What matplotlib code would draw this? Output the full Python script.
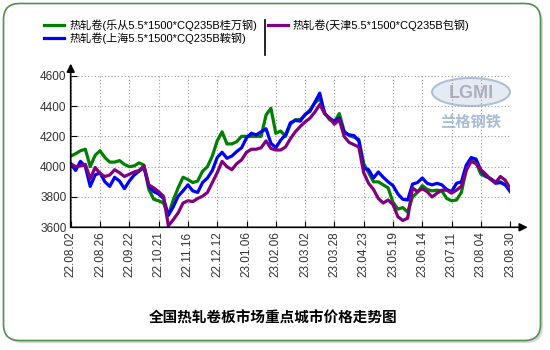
import matplotlib
matplotlib.use('Agg')
import matplotlib.pyplot as plt
from matplotlib.patches import FancyBboxPatch, Ellipse
from matplotlib.lines import Line2D

plt.rcParams['font.family'] = ['Liberation Sans', 'Noto Sans CJK SC', 'DejaVu Sans']

# ---------------- data ----------------
tick_labels = ['22.08.02', '22.08.26', '22.09.22', '22.10.21', '22.11.16', '22.12.12',
               '23.01.06', '23.02.06', '23.03.02', '23.03.28', '23.04.23', '23.05.19',
               '23.06.14', '23.07.11', '23.08.04', '23.08.30']

series_names = ['热轧卷(乐从5.5*1500*CQ235B桂万钢)',
                '热轧卷(上海5.5*1500*CQ235B鞍钢)',
                '热轧卷(天津5.5*1500*CQ235B包钢)']

lecong = [4070, 4085, 4105, 4115, 4000, 4075, 4105, 4060, 4030, 4030,
          4040, 4015, 4000, 4005, 4025, 4010, 3850, 3785, 3775, 3760,
          3680, 3780, 3860, 3930, 3915, 3895, 3905, 3970, 4000, 4070,
          4170, 4230, 4150, 4150, 4165, 4200, 4200, 4200, 4200, 4200,
          4340, 4385, 4220, 4235, 4200, 4280, 4310, 4310, 4340, 4375,
          4420, 4450, 4355, 4310, 4295, 4350, 4235, 4205, 4195, 4180,
          4020, 3960, 3900, 3900, 3880, 3860, 3765, 3720, 3730, 3700,
          3800, 3830, 3875, 3850, 3840, 3845, 3840, 3790, 3775, 3780,
          3830, 3980, 4045, 4030, 3950, 3935, 3920, 3900, 3900, 3880,
          3845]

shanghai = [4020, 3975, 4035, 4000, 3870, 3945, 3960, 3900, 3870, 3930,
            3905, 3855, 3905, 3945, 3970, 3995, 3870, 3835, 3820, 3790,
            3680, 3735, 3805, 3840, 3880, 3840, 3830, 3895, 3925, 3975,
            4060, 4095, 4055, 4070, 4100, 4125, 4190, 4220, 4210, 4230,
            4250, 4155, 4125, 4175, 4210, 4290, 4305, 4300, 4345, 4365,
            4425, 4485, 4350, 4320, 4300, 4320, 4225, 4210, 4205, 4170,
            3990, 3980, 3925, 3965, 3930, 3900, 3875, 3820, 3785, 3780,
            3885, 3895, 3925, 3890, 3880, 3890, 3880, 3850, 3835, 3890,
            3900, 4010, 4060, 4050, 3975, 3940, 3920, 3890, 3895, 3880,
            3835]

tianjin = [4020, 4000, 4005, 4015, 3920, 3995, 3955, 3935, 3945, 3980,
           3960, 3935, 3950, 3965, 3975, 4005, 3880, 3860, 3835, 3805,
           3610, 3650, 3695, 3760, 3775, 3770, 3790, 3805, 3830, 3895,
           3960, 4035, 4000, 3980, 4020, 4045, 4095, 4115, 4115, 4125,
           4170, 4120, 4110, 4110, 4130, 4185, 4230, 4265, 4295, 4320,
           4360, 4410, 4350, 4320, 4280, 4310, 4200, 4160, 4145, 4130,
           3960, 3890, 3850, 3790, 3760, 3780, 3750, 3670, 3645, 3660,
           3860, 3835, 3855, 3835, 3800, 3825, 3845, 3845, 3825, 3845,
           3870, 3975, 4035, 4020, 3980, 3950, 3915, 3895, 3935, 3910,
           3855]

colors = ['#008000', '#0000ff', '#800080']
yticks = [3600, 3800, 4000, 4200, 4400, 4600]
title = '全国热轧卷板市场重点城市价格走势图'

# ---------------- figure ----------------
W, H = 550, 350
fig = plt.figure(figsize=(W / 100, H / 100), dpi=100)
fig.patch.set_facecolor('white')

# background overlay in pixel coordinates
bg = fig.add_axes([0, 0, 1, 1], zorder=0)
bg.set_xlim(0, W)
bg.set_ylim(H, 0)
bg.axis('off')
shadow = FancyBboxPatch((6, 6), 537, 337, boxstyle='round,pad=0,rounding_size=16',
                        facecolor='#c8c8c8', edgecolor='none', alpha=0.7)
bg.add_patch(shadow)
frame = FancyBboxPatch((3.5, 3.5), 537, 337, boxstyle='round,pad=0,rounding_size=16',
                       facecolor='white', edgecolor='#4f8f4f', linewidth=1.2)
bg.add_patch(frame)
# separator in legend
bg.plot([265, 265], [20, 55], color='black', lw=1.2)
# watermark
bg.add_patch(Ellipse((471, 92), 78, 28, facecolor='#dfe6f0', edgecolor='#9fb3cc', lw=1.5, alpha=0.8))
bg.text(471, 93, 'LGMI', ha='center', va='center', fontsize=13, fontweight='bold',
        color='#a8a8b8', alpha=0.9)
bg.text(471, 122, '兰格钢铁', ha='center', va='center', fontsize=11, fontweight='bold',
        color='#a9bcd8', family=['Noto Sans CJK SC'])
# title
bg.text(273, 318, title, ha='center', va='center', fontsize=10.5, fontweight='bold',
        family=['Noto Sans CJK SC'], color='black')

# main axes
x0, x1 = 70.7, 510.2
y0, y1 = 75.7, 227.3
ax = fig.add_axes([x0 / W, 1 - y1 / H, (x1 - x0) / W, (y1 - y0) / H], zorder=2)
ax.patch.set_alpha(0)

xs = list(range(len(lecong)))
for vals, c, name in zip([lecong, shanghai, tianjin], colors, series_names):
    ax.plot(xs, vals, color=c, lw=2.3, label=name, solid_joinstyle='round')

ax.set_xlim(0, len(lecong) - 1)
ax.set_ylim(3600, 4600)
step = (len(lecong) - 1) // (len(tick_labels) - 1)
ax.set_xticks([i * step for i in range(len(tick_labels))])
ax.set_xticklabels(tick_labels, rotation=90, fontsize=8.5, color='#333333')
ax.set_yticks(yticks)
ax.set_yticklabels([str(v) for v in yticks], fontsize=8.5, color='#333333')
ax.tick_params(direction='in', length=4, width=0.8, pad=3)
ax.grid(True, color='#9a9a9a', linestyle=(0, (1, 2)), linewidth=0.8)
for s in ['top', 'right', 'left', 'bottom']:
    ax.spines[s].set_visible(False)
ax.annotate('', xy=(1.04, 0), xytext=(0, 0), xycoords='axes fraction',
            arrowprops=dict(arrowstyle='-|>', color='black', lw=1.2, mutation_scale=12,
                            shrinkA=0, shrinkB=0), annotation_clip=False)
ax.annotate('', xy=(0, 1.08), xytext=(0, 0), xycoords='axes fraction',
            arrowprops=dict(arrowstyle='-|>', color='black', lw=1.2, mutation_scale=12,
                            shrinkA=0, shrinkB=0), annotation_clip=False)

handles = [Line2D([], [], color=c, lw=2.3) for c in colors]
fig.legend(handles, series_names, ncol=2, loc='upper left',
           bbox_to_anchor=(44 / W, 1 - 19 / H), frameon=False, fontsize=8,
           handlelength=1.8, handletextpad=0.45, columnspacing=1.0, labelspacing=0.15,
           borderaxespad=0, borderpad=0)

fig.savefig('out.png', dpi=100, facecolor='white')
